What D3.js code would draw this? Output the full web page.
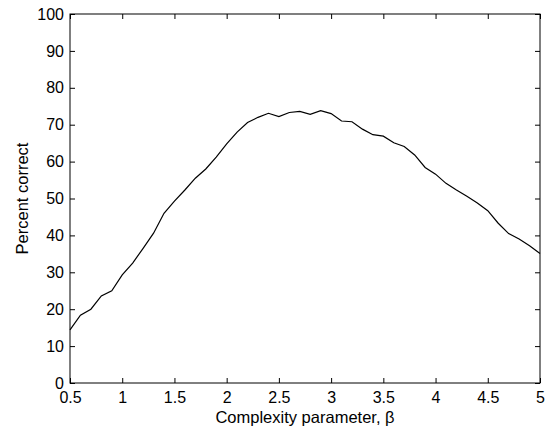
<!DOCTYPE html>
<html>
<head>
<meta charset="utf-8">
<script src="https://cdn.jsdelivr.net/npm/d3@7"></script>
<style>
  body { margin: 0; background: #fff; }
  text { font-family: "Liberation Sans", Arial, sans-serif; fill: #000; }
</style>
</head>
<body>
<div id="chart"></div>
<script>
// complexity parameter (beta) samples and percent correct
let betaValues = [0.5, 0.6, 0.7, 0.8, 0.9, 1.0, 1.1, 1.2, 1.3, 1.4, 1.5, 1.6, 1.7, 1.8, 1.9,
    2.0, 2.1, 2.2, 2.3, 2.4, 2.5, 2.6, 2.7, 2.8, 2.9, 3.0, 3.1, 3.2, 3.3, 3.4, 3.5,
    3.6, 3.7, 3.8, 3.9, 4.0, 4.1, 4.2, 4.3, 4.4, 4.5, 4.6, 4.7, 4.8, 4.9, 5.0];
let percentCorrect = [14.4, 18.4, 20.0, 23.6, 25.0, 29.3, 32.5, 36.5, 40.6, 46.0, 49.3, 52.3, 55.5, 58.0, 61.2,
    64.8, 68.0, 70.6, 72.0, 73.1, 72.2, 73.3, 73.6, 72.8, 73.8, 73.0, 71.0, 70.8, 68.8, 67.3, 66.9,
    65.1, 64.1, 61.8, 58.4, 56.6, 54.1, 52.3, 50.6, 48.8, 46.7, 43.3, 40.5, 39.0, 37.2, 35.1];
let xTicks = [0.5, 1, 1.5, 2, 2.5, 3, 3.5, 4, 4.5, 5];
let yTicks = [0, 10, 20, 30, 40, 50, 60, 70, 80, 90, 100];

let data = betaValues.map((b, i) => ({ x: b, y: percentCorrect[i] }));

// plot box (window.top is taken, so use other names)
let plotL = 70, plotR = 540, plotT = 14, plotB = 383;

let svg = d3.select('#chart')
    .append('svg')
    .attr('width', 545)
    .attr('height', 433);

let x = d3.scaleLinear().domain([0.5, 5]).range([plotL, plotR]);
let y = d3.scaleLinear().domain([0, 100]).range([plotB, plotT]);

// frame
svg.append('rect')
    .attr('x', plotL).attr('y', plotT)
    .attr('width', plotR - plotL).attr('height', plotB - plotT)
    .attr('fill', 'none').attr('stroke', '#000').attr('stroke-width', 1);

let tickLen = 5;
let fmt = d => String(d);

// bottom / top axes (inward ticks)
let gx = svg.append('g').attr('transform', `translate(0,${plotB})`)
    .call(d3.axisBottom(x).tickValues(xTicks).tickFormat(fmt).tickSize(-tickLen).tickPadding(9));
let gxt = svg.append('g').attr('transform', `translate(0,${plotT})`)
    .call(d3.axisTop(x).tickValues(xTicks).tickFormat('').tickSize(-tickLen));

// left / right axes
let gy = svg.append('g').attr('transform', `translate(${plotL},0)`)
    .call(d3.axisLeft(y).tickValues(yTicks).tickFormat(fmt).tickSize(-tickLen).tickPadding(6));
let gyr = svg.append('g').attr('transform', `translate(${plotR},0)`)
    .call(d3.axisRight(y).tickValues(yTicks).tickFormat('').tickSize(-tickLen));

[gx, gxt, gy, gyr].forEach(g => {
    g.select('.domain').remove();
    g.selectAll('line').attr('stroke', '#000');
    g.selectAll('text')
        .style('font-family', '"Liberation Sans", Arial, sans-serif')
        .style('font-size', '16px')
        .attr('fill', '#000');
});

// the curve
let line = d3.line().x(d => x(d.x)).y(d => y(d.y));
svg.append('path')
    .datum(data)
    .attr('d', line)
    .attr('fill', 'none')
    .attr('stroke', '#000')
    .attr('stroke-width', 1.2);

// axis labels
svg.append('text')
    .attr('x', (plotL + plotR) / 2)
    .attr('y', 423)
    .attr('text-anchor', 'middle')
    .style('font-size', '16.5px')
    .text('Complexity parameter, β');

svg.append('text')
    .attr('transform', `translate(28,${(plotT + plotB) / 2}) rotate(-90)`)
    .attr('text-anchor', 'middle')
    .style('font-size', '16.5px')
    .text('Percent correct');
</script>
</body>
</html>
